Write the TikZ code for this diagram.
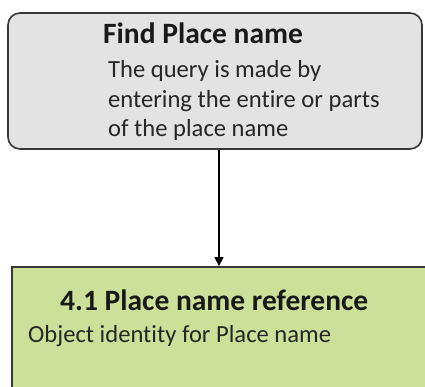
\documentclass[tikz,border=0pt]{standalone}
\usepackage{fontspec}
\setmainfont[Ligatures=NoCommon]{Carlito}
\usetikzlibrary{arrows.meta}
\definecolor{boxgray}{RGB}{227,227,227}
\definecolor{boxgreen}{RGB}{204,224,154}
\definecolor{edgegray}{RGB}{55,55,55}
\tikzset{
  titletext/.style={anchor=base west, inner sep=0pt, font=\fontsize{29.5bp}{35bp}\selectfont\bfseries, text=black!90},
  bodytext/.style={anchor=base west, inner sep=0pt, font=\fontsize{24.6bp}{30bp}\selectfont, text=black!85},
  querybox/.style={draw=edgegray, line width=1.6bp, fill=boxgray, rounded corners=12bp, inner sep=0pt},
  refbox/.style={draw=edgegray, line width=1.8bp, fill=boxgreen, inner sep=0pt},
  flowarrow/.style={draw=black, line width=1.4bp, -{Triangle[width=9bp,length=9bp]}}
}
\begin{document}
\begin{tikzpicture}[x=1bp, y=-1bp]
\useasboundingbox (0,0) rectangle (425,387);
\clip (0,0) rectangle (425,387);
\node[querybox, minimum width=414bp, minimum height=136bp] (find) at (215,81) {};
\node[refbox, minimum width=428bp, minimum height=140bp] (ref) at (226,337) {};
\node[titletext] (findtitle) at (103,43) {Find Place name};
\node[bodytext] (f1) at (108,77) {The query is made by};
\node[bodytext] (f2) at (108,107) {entering the entire or parts};
\node[bodytext] (f3) at (108,136) {of the place name};
\node[titletext] (reftitle) at (60,310) {4.1 Place name reference};
\node[bodytext] (r1) at (28,342) {Object identity for Place name};
\coordinate (ax) at (219,0);
\draw[flowarrow] (find.south -| ax) -- (ref.north -| ax);
\end{tikzpicture}
\end{document}
